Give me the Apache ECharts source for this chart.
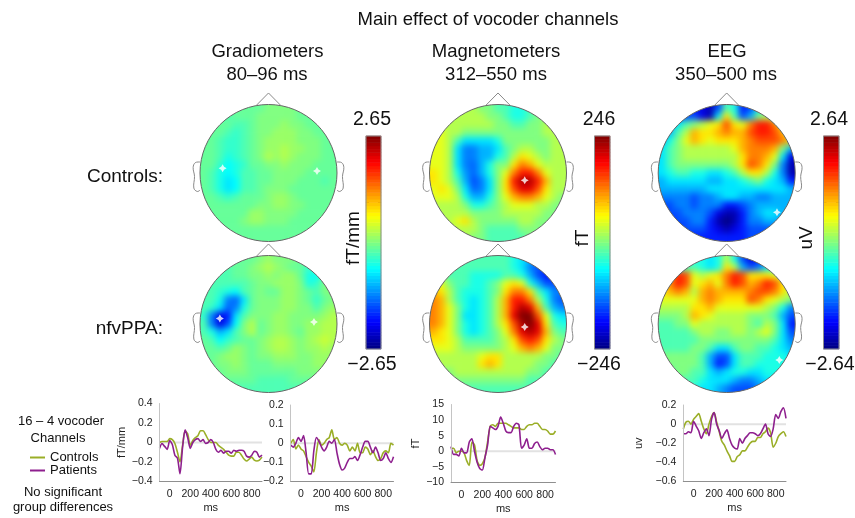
<!DOCTYPE html>
<html><head><meta charset="utf-8">
<style>html,body{margin:0;padding:0;background:#fff}#c{width:855px;height:518px}</style>
<script src="https://cdn.jsdelivr.net/npm/echarts@6/dist/echarts.min.js"></script>
</head><body><div id="c"></div>
<script>
// ---- topography values, in tenths of each colour scale's limit, rows front to back, columns left to right
const gradControls=[
[-1,-1,-1,-1,-.5,-.5,-.5,-.5,0,0,0,0,-.5,-.5,-.5,-.5,-.5],
[-1,-1,-1,-1,-.5,-.5,-.5,0,0,0,0,0,-.5,-.5,-.5,-.5,-.5],
[-1,-1,-.5,-.5,-1,-1,-.5,0,0,0,.5,0,0,-.5,-.5,-.5,-.5],
[-1,-.5,-.5,-1,-1.5,-1,-.5,0,0,.5,.5,.5,0,0,-.5,-.5,-.5],
[-.5,-.5,-1,-1.5,-1.5,-1,-.5,0,.5,.5,.5,.5,0,0,0,-.5,-.5],
[-.5,-.5,-1,-1.5,-1.5,-1,-.5,0,.5,.5,1,.5,.5,0,0,-.5,-.5],
[-.5,-.5,-1,-2,-1.5,-1,-.5,0,1,.5,1,.5,0,0,0,-.5,-.5],
[-.5,-.5,-1.5,-2.5,-2,-1.5,-.5,-.5,0,0,.5,0,0,0,-.5,-.5,-.5],
[-.5,-1,-2,-2.5,-2,-1,-1,-.5,-.5,0,0,0,0,-.5,-.5,-.5,-.5],
[-.5,-1,-2,-3,-2.5,-1,-1,-.5,-.5,0,0,0,-.5,-.5,-.5,-1,-.5],
[-.5,-1,-2,-3,-2.5,-1,-1,-.5,0,0,0,-.5,-.5,-.5,-.5,-.5,-.5],
[-.5,-.5,-1,-1.5,-1,-.5,-.5,-.5,0,.5,.5,0,-.5,-.5,-.5,-.5,-.5],
[-.5,-.5,-.5,-.5,-.5,-.5,-.5,0,0,.5,.5,0,0,-.5,-.5,-.5,-.5],
[-.5,-.5,-.5,-.5,-.5,-.5,.5,.5,0,0,0,0,-.5,-.5,-.5,-.5,-.5],
[-.5,-.5,-.5,-.5,-.5,0,.5,.5,0,0,0,-.5,-.5,-.5,-.5,-.5,-.5],
[-.5,-.5,-.5,-.5,-.5,-.5,-.5,-.5,-.5,-.5,-.5,-.5,-.5,-.5,-.5,-.5,-.5],
[-.5,-.5,-.5,-.5,-.5,-.5,-.5,-.5,-.5,-.5,-.5,-.5,-.5,-.5,-.5,-.5,-.5]];
const gradPatients=[
[-1,-1,-1,-.5,-.5,-.5,-.5,0,.5,0,0,0,-.5,-.5,-.5,0,0],
[-1,-1,-1,-1,-.5,-.5,0,.5,1,.5,0,-.5,-.5,-1.5,-.5,0,0],
[-1,-1,-1,-1,-.5,-.5,0,0,.5,0,.5,.5,-.5,-2,-2.5,-.5,0],
[-1,-1,-1,-1,-1,-1,-.5,0,0,.5,.5,.5,0,-2,-1.5,0,0],
[-1,-1,-1.5,-2,-2.5,-1,-.5,0,-.5,-.5,.5,.5,0,-.5,-1,0,0],
[-1,-1,-2,-5,-5.5,-3,-.5,0,0,0,.5,.5,0,-.5,-1.5,-.5,0],
[-1,-1.5,-3,-5.5,-5,-2,-.5,0,0,0,.5,.5,0,0,-1,0,.5],
[-1.5,-5,-8,-7,-3,-1,0,0,0,.5,.5,0,0,0,0,.5,1],
[-1,-5,-8,-6,-2.5,0,1,-.5,0,.5,.5,0,0,.5,.5,1,1],
[-1,-2,-4,-3,-1,0,1,-.5,0,.5,.5,0,-.5,.5,.5,1,1],
[-.5,-1,-2.5,-1.5,-1,-.5,-.5,0,.5,1,1,.5,0,.5,1,1.5,1],
[-.5,-.5,-1,-.5,.5,0,-.5,0,.5,1,1,.5,0,.5,.5,1,.5],
[-.5,-.5,0,.5,.5,0,-.5,0,0,.5,.5,.5,0,0,.5,.5,.5],
[-.5,-.5,0,0,.5,0,-.5,-.5,-.5,0,0,0,0,0,.5,.5,0],
[-.5,-.5,-.5,0,0,0,-.5,-.5,-.5,-.5,-.5,-.5,0,0,0,0,0],
[-.5,-.5,-.5,-.5,-.5,-.5,-.5,-1,-1,-1,-1,-.5,-.5,-.5,-.5,-.5,-.5],
[-1,-1,-1,-1,-1,-1,-1,-1,-1,-1,-1,-1,-1,-1,-1,-1,-1]];
const magControls=[
[1,1,1,1,1,1,0,0,-1,-1,-2,-2,-1,0,0,0,0],
[1,1,1,1,1,1,1,0,0,-1,-2,-2,-1,0,0,1,1],
[2,1,1,1,1,1,1,1,0,0,-1,-1,0,0,1,1,1],
[2,2,1,1,0,0,0,0,0,0,0,0,0,0,1,1,1],
[2,2,1,-1,-3,-3,-3,-3,-2,0,0,0,0,0,0,1,1],
[2,2,1,-3,-5,-5,-4,-4,-3,-1,0,1,1,0,0,1,1],
[2,2,1,-3,-5,-5,-4,-4,-2,-1,1,3,2,1,0,1,1],
[2,2,1,-3,-5,-5.5,-4,-2,0,0,3,5,4,2,1,1,1],
[3,2,1,-2,-4.5,-5.5,-4,-2,0,2,5,7,7,5,2,1,1],
[3,2,1,-1,-4,-6,-5,-3,0,3,7,9,9,7,4,1,1],
[2,3,2,0,-3,-5.5,-5,-3,0,3,6,8,8,6,3,1,1],
[2,2,2,1,-2,-4,-4,-2,0,2,4,5,5,4,2,1,0],
[1,1,1,1,0,-2,-2,-1,0,1,2,2,2,1,1,0,0],
[1,1,1,1,1,0,0,0,0,1,1,1,1,1,0,0,0],
[1,1,1,2,3,1,0,0,0,0,0,1,1,0,0,0,0],
[1,1,1,1,1,1,0,-1,-1,-1,-1,0,0,0,0,0,0],
[0,0,1,1,1,0,0,-1,-1,-1,-1,-1,0,0,0,0,0]];
const magPatients=[
[-1,-1,-1,-1,-1,-1,-1,-1,-1,-1,-2,-3,-4,-5,-5,-5,-5],
[-1,-1,-1,-1,-1,-1,-1,-1,-1,-1,-2,-3,-5,-6,-6,-6,-6],
[0,0,-1,-1,-1,-2,-2,-2,-2,-1,-1,-2,-4,-6,-7,-7,-7],
[2,2,0,-1,-1,-2,-2,-1,0,2,3,2,-2,-4,-6,-6,-6],
[4,3,1,-1,-2,-2,-2,-1,0,3,5,5,3,-1,-3,-5,-5],
[5,4,1,-1,-2,-3,-2,-1,1,4,7,7,5,1,-2,-5,-6],
[5,4,2,0,-2,-3,-2,-1,1,4,7,9,8,4,-1,-4,-5],
[5,4,2,0,-3,-3,-2,-1,1,4,8,10,10,6,2,-2,-3],
[5,4,2,0,-2,-3,-2,-1,1,3,6,9,10,8,3,-1,-2],
[4,3,2,0,-2,-3,-2,-1,0,2,5,8,9,8,4,0,-1],
[3,3,2,1,-1,-1,-1,-1,0,1,3,6,7,6,3,1,0],
[2,2,2,1,0,0,0,0,0,1,2,4,5,4,2,0,0],
[1,1,1,1,1,1,2,3,3,1,1,1,1,1,0,0,-1],
[1,1,1,1,1,1,3,4,3,1,1,1,1,0,0,-1,-1],
[0,0,0,1,1,1,1,1,1,1,1,1,0,0,-1,-1,-1],
[0,0,0,0,0,0,0,0,0,0,0,0,-1,-1,-1,-1,-1],
[-1,-1,-1,-1,-1,-1,-1,-1,-1,-1,-1,-1,-1,-1,-1,-1,-1]];
const eegControls=[
[-7,-7,-7,-7,-7,-8,-9,-6,-1,-2,-7,-6,-3,-3,-3,-3,-3],
[-6,-6,-6,-6,-6,-8,-9,-3,3,-1,-6,-4,0,1,0,0,0],
[-4,-4,-3,-1,0,1,2,3,6,3,2,5,7,7,5,2,1],
[-4,-4,-1,1,4,3,3,4,5,4,4,6,7,7,6,4,2],
[-4,-2,0,2,4,3,2,3,3,3,4,5,6,6,6,5,3],
[-3,-1,0,1,1,1,1,1,1,2,4,5,5,5,4,0,-4],
[-3,-1,0,1,1,1,1,1,1,1,3,5,5,4,2,-3,-8],
[-3,-1,0,0,0,0,0,0,0,1,3,6,5,3,0,-5,-9],
[-3,-2,-1,-1,-2,-2,-3,-3,-2,-1,1,3,3,1,-2,-5,-9],
[-4,-3,-3,-3,-3,-3,-4,-4,-3,-3,-2,-1,0,-2,-3,-4,-7],
[-4,-4,-4,-4,-4,-4,-3,-3,-3,-3,-3,-3,-3,-3,-3,-3,-4],
[-5,-5,-5,-5,-6,-5,-5,-4,-3,-3,-4,-4,-5,-5,-4,-4,-4],
[-6,-6,-5,-5,-6,-5,-5,-5,-7,-7,-6,-5,-4,-4,-4,-4,-4],
[-7,-6,-6,-5,-5,-5,-6,-8,-9,-9,-7,-5,-4,-3,-3,-4,-4],
[-7,-7,-6,-6,-5,-5,-7,-9,-10,-9,-7,-5,-5,-4,-4,-5,-5],
[-7,-7,-7,-6,-6,-6,-7,-8,-9,-8,-7,-6,-6,-6,-6,-6,-6],
[-7,-7,-7,-7,-7,-7,-7,-7,-7,-7,-7,-6,-6,-6,-6,-6,-6]];
const eegPatients=[
[-2,-2,-2,-2,-2,-2,-3,-2,1,-2,-6,-8,-7,-5,-4,-4,-4],
[-1,-1,-1,-1,-1,-2,-3,-2,3,1,-4,-6,-5,-3,-2,-2,-2],
[1,3,7,6,2,1,2,3,5,7,6,3,3,3,2,1,1],
[3,5,7,6,2,3,4,2,5,7,6,4,5,7,6,3,2],
[3,4,5,4,1,4,5,4,4,4,4,5,6,6,5,3,1],
[2,2,2,2,2,4,5,4,3,3,3,6,5,3,2,1,0],
[1,1,1,1,3,3,4,2,2,2,2,2,2,1,0,-2,-5],
[0,0,0,1,4,3,2,1,1,1,1,0,0,0,-1,-4,-6],
[-1,-1,0,0,2,1,1,1,1,1,1,0,-1,1,0,-3,-7],
[-1,-1,-1,-1,0,1,1,0,0,1,1,0,1,2,0,-3,-6],
[-1,-1,-1,-1,-1,0,0,0,0,0,0,0,0,0,-1,-3,-5],
[-1,-1,-1,-1,0,0,-1,-3,-3,-1,0,0,-1,-1,-2,-3,-4],
[0,0,0,0,0,-1,-4,-6,-6,-3,-1,-1,-1,-2,-2,-2,-3],
[0,0,0,0,0,-1,-4,-7,-6,-3,-1,-1,-2,-2,-2,-2,-2],
[-1,-1,0,0,-1,-1,-3,-4,-3,-2,-2,-3,-3,-2,-2,-2,-2],
[-1,-1,-1,-1,-1,-2,-3,-3,-3,-4,-5,-5,-4,-3,-3,-3,-3],
[-2,-2,-2,-2,-2,-3,-3,-4,-5,-6,-6,-6,-5,-4,-4,-4,-4]];
// colour scale limits per modality, and significant sensors in head units (right, front)
const scaleLimits=[2.65,246,2.64];
const gradStarsControls=[[-.67,.07],[.708,.03]];
const gradStarsPatients=[[-.71,.08],[.664,.03]];
const magStarsControls=[[.39,-.107]];
const magStarsPatients=[[.39,-.044]];
const eegStarsControls=[[.734,-.574]];
const eegStarsPatients=[[.768,-.526]];
// ---- time courses
const ms=[-100,-75,-50,-25,0,25,50,75,100,125,150,175,200,225,250,275,300,325,350,375,400,425,450,475,500,525,550,575,600,625,650,675,700,725,750,775,800,825,850,875,900];
const grad1Controls=[0,.01,.01,.01,.04,.03,-.01,-.1,-.2,-.03,.12,.09,-.03,.02,.05,.07,.12,.12,.08,.03,0,0,0,-.03,-.05,-.07,-.1,-.13,-.14,-.14,-.1,-.1,-.13,-.17,-.19,-.17,-.15,-.18,-.19,-.18,-.15];
const grad1Patients=[-.06,-.01,-.04,-.07,.02,-.02,-.13,-.16,-.32,-.05,.13,.05,-.06,0,.03,.04,.01,.03,-.01,0,.03,0,-.07,-.1,-.08,-.11,-.09,-.09,-.11,-.08,-.09,-.08,-.08,-.09,-.14,-.15,-.13,-.09,-.1,-.15,-.13];
const grad2Controls=[0,.02,-.03,-.01,-.03,-.04,-.07,-.1,-.12,-.15,-.05,.02,-.01,0,.02,.03,.07,.02,.03,0,-.01,0,-.01,-.04,-.02,-.04,0,-.05,-.05,-.02,-.03,-.06,-.04,-.07,-.09,-.08,-.05,-.04,-.05,0,-.01];
const grad2Patients=[-.01,-.02,0,.03,.01,.04,-.05,-.16,-.16,-.04,.03,.01,-.02,-.04,-.02,.01,0,.02,-.05,-.11,-.14,-.13,-.1,-.08,-.08,-.07,-.09,-.06,-.02,.01,.01,-.02,-.05,-.02,-.05,-.09,-.08,-.05,-.08,-.1,-.07];
const magLineControls=[1,1,-.5,0,0,-.5,-3,-4.5,3,2,-3,-4.5,-4,-2,3,8,8.5,8,9,9,9,9,8.5,8,7.5,7.5,7.5,7,7,8,8.5,8.5,9,9,8,7,7,6.5,5.5,5.5,6.5];
const magLinePatients=[1.5,-1,-1,-1.5,1,-.5,-.5,3,4,0,-3.5,-5.5,-6,-2,2,8,7.5,7,8,11,9,6.5,6,6,8,9,8.5,1,2,4,1,1,2.5,3,1.5,.5,1,1,.5,.5,-1];
const eegLineControls=[-.05,.02,.03,0,.05,.08,.11,.03,-.05,-.1,0,.08,.12,.02,-.08,-.18,-.22,-.28,-.33,-.39,-.39,-.34,-.32,-.28,-.28,-.24,-.2,-.18,-.18,-.14,-.14,-.1,-.08,-.04,-.09,-.24,-.2,-.13,-.1,-.08,-.13];
const eegLinePatients=[-.1,-.1,-.08,-.09,.03,-.02,-.07,-.15,-.09,-.05,-.12,.05,.12,0,-.07,-.15,-.1,-.06,-.15,-.22,-.25,-.26,-.15,-.2,-.15,-.12,-.09,-.09,-.1,-.12,-.1,-.05,0,-.1,-.13,-.05,.1,.06,.13,.17,.06];
const msTicks=[0,200,400,600,800];
// ---- layout
const FONT='Liberation Sans';
const R=68.5, HALF=76.6, UNIT=HALF/R;
const jet=['#000080','#0000ff','#0080ff','#00ffff','#80ff80','#ffff00','#ff8000','#ff0000','#800000'];
const heads=[
 {cx:268.5,cy:173,table:gradControls,stars:gradStarsControls,scale:0,up:92,down:82},
 {cx:268.5,cy:324,table:gradPatients,stars:gradStarsPatients,scale:0,up:82,down:92},
 {cx:498,cy:173,table:magControls,stars:magStarsControls,scale:1,up:92,down:82},
 {cx:498,cy:324,table:magPatients,stars:magStarsPatients,scale:1,up:82,down:92},
 {cx:726.7,cy:173,table:eegControls,stars:eegStarsControls,scale:2,up:92,down:82},
 {cx:726.7,cy:324,table:eegPatients,stars:eegStarsPatients,scale:2,up:82,down:92}];
const bars=[
 {x:366,w:15,name:'fT/mm',nameX:354},
 {x:594.5,w:15.5,name:'fT',nameX:583},
 {x:823.5,w:15.5,name:'uV',nameX:807}];
const plots=[
 {x0:159.5,x1:262,y0:403.5,y1:481.5,min:-.4,max:.4,step:.2,name:'fT/mm',gap:28,c:grad1Controls,p:grad1Patients},
 {x0:290.7,x1:393.5,y0:405,y1:481.5,min:-.2,max:.2,step:.1,name:'',gap:0,c:grad2Controls,p:grad2Patients},
 {x0:451,x1:555.5,y0:404.5,y1:482.5,min:-10,max:15,step:5,name:'fT',gap:30,c:magLineControls,p:magLinePatients},
 {x0:683.3,x1:786,y0:405,y1:481.5,min:-.6,max:.2,step:.2,name:'uv',gap:39,c:eegLineControls,p:eegLinePatients}];
const texts=[
 ['Main effect of vocoder channels',488,20,18.5,'center'],
 ['Gradiometers',267.5,52,18.5,'center'],['80–96 ms',267,75,18.5,'center'],
 ['Magnetometers',496,52,18.5,'center'],['312–550 ms',496,75,18.5,'center'],
 ['EEG',727,52,18.5,'center'],['350–500 ms',726,75,18.5,'center'],
 ['Controls:',163,177,19,'right'],['nfvPPA:',163,329,19,'right'],
 ['2.65',372,120,19.5,'center'],['−2.65',372,365,19.5,'center'],
 ['246',599,120,19.5,'center'],['−246',599,365,19.5,'center'],
 ['2.64',829,120,19.5,'center'],['−2.64',830,365,19.5,'center'],
 ['16 – 4 vocoder',61,421,13,'center'],['Channels',58,438,13,'center'],
 ['No significant',63,492,13,'center'],['group differences',63,507,13,'center']];
const earOutline=[[1,.16],[1.07,.15],[1.1,.08],[1.08,-.05],[1.09,-.22],[1.04,-.27],[1,-.25]];
const noseOutline=[[-.18,.985],[0,1.168],[.18,.985]];

const grids=[],xAxes=[],yAxes=[],series=[],visualMaps=[[],[],[]];
function pad(table){ // one repeated ring of cells beyond the head edge, hidden by the mask
 const rows=[table[0],...table,table[table.length-1]];
 return rows.map(r=>[r[0],...r,r[r.length-1]]);
}
function headDecor(h,api){
 const c=api.coord([0,0]), r=api.size([1,0])[0], W=90;
 const t0=c[1]-h.up, b0=c[1]+h.down;
 const p=[[c[0]-W,t0],[c[0]+W,t0],[c[0]+W,b0],[c[0]-W,b0],[c[0]-W,t0],[c[0]-r,c[1]]];
 for(let a=0;a<=180;a++){const t=Math.PI+a*Math.PI/90;p.push([c[0]+r*Math.cos(t),c[1]-r*Math.sin(t)]);}
 p.push([c[0]-W,t0]);
 const line={stroke:'#8a8a8a',fill:null,lineWidth:1};
 const pts=(arr,sx)=>arr.map(q=>api.coord([q[0]*sx,q[1]]));
 return {type:'group',children:[
  {type:'polygon',shape:{points:p},style:{fill:'#fff',stroke:null}},
  {type:'circle',shape:{cx:c[0],cy:c[1],r:r},style:{stroke:'#666',fill:null,lineWidth:1}},
  {type:'polyline',shape:{points:pts(noseOutline,1)},style:line},
  {type:'polyline',shape:{points:pts(earOutline,1),smooth:.4},style:line},
  {type:'polyline',shape:{points:pts(earOutline,-1),smooth:.4},style:line}]};
}
heads.forEach(h=>{
 const g=grids.length, a=xAxes.length, lim=scaleLimits[h.scale];
 grids.push({left:h.cx-HALF,top:h.cy-HALF,width:HALF*2,height:HALF*2});
 const cells=pad(h.table), idx=cells.map((_,i)=>i);
 xAxes.push({gridIndex:g,type:'value',min:-UNIT,max:UNIT,show:false},{gridIndex:g,type:'category',data:idx,show:false});
 yAxes.push({gridIndex:g,type:'value',min:-UNIT,max:UNIT,show:false},{gridIndex:g,type:'category',data:idx,inverse:true,show:false});
 const data=[];
 cells.forEach((row,y)=>row.forEach((v,x)=>data.push([x,y,v*lim/10])));
 visualMaps[h.scale].push(series.length);
 series.push({type:'heatmap',zlevel:-1,xAxisIndex:a+1,yAxisIndex:a+1,data:data,silent:true,progressive:0,animation:false});
 series.push({type:'custom',xAxisIndex:a,yAxisIndex:a,data:[[0,0]],renderItem:(p,api)=>headDecor(h,api),silent:true,z:1,animation:false});
 series.push({type:'scatter',xAxisIndex:a,yAxisIndex:a,data:h.stars,symbol:'path://M5 0L6.8 3.2L10 5L6.8 6.8L5 10L3.2 6.8L0 5L3.2 3.2Z',symbolSize:8,itemStyle:{color:'#fff'},silent:true,z:4});
});
bars.forEach((b,i)=>{
 const g=grids.length, a=xAxes.length, lim=scaleLimits[i];
 grids.push({left:b.x,top:136,width:b.w,height:213,show:true,z:3,borderColor:'#8d8d8d',borderWidth:1,backgroundColor:'transparent'});
 const steps=[];for(let k=0;k<64;k++)steps.push((k+.5)/32-1);
 xAxes.push({gridIndex:g,type:'category',data:[0],show:false});
 const tick={show:true,inside:true,length:3,lineStyle:{color:'#222'},customValues:[.72,.376,.032]};
 yAxes.push({gridIndex:g,type:'category',data:steps,show:false},
  {gridIndex:g,type:'value',min:-1,max:1,position:'left',axisLine:{show:false},splitLine:{show:false},axisLabel:{show:false},axisTick:tick},
  {gridIndex:g,type:'value',min:-1,max:1,position:'right',axisLine:{show:false},splitLine:{show:false},axisLabel:{show:false},axisTick:tick});
 visualMaps[i].push(series.length);
 series.push({type:'heatmap',xAxisIndex:a,yAxisIndex:yAxes.length-3,data:steps.map((s,k)=>[0,k,s*lim]),silent:true,progressive:0,z:2,animation:false});
});
plots.forEach(pl=>{
 const g=grids.length, xi=xAxes.length, yi=yAxes.length;
 grids.push({left:pl.x0,top:pl.y0,width:pl.x1-pl.x0,height:pl.y1-pl.y0});
 xAxes.push({gridIndex:g,type:'value',min:-100,max:900,z:6,splitLine:{show:false},axisTick:{show:false},
  axisLine:{onZero:false,lineStyle:{color:'#8f8f8f'}},
  axisLabel:{customValues:msTicks,fontFamily:FONT,fontSize:10.5,color:'#222',margin:7},
  name:'ms',nameLocation:'middle',nameGap:21,nameTextStyle:{fontFamily:FONT,fontSize:11,color:'#222'}});
 yAxes.push({gridIndex:g,type:'value',min:pl.min,max:pl.max,interval:pl.step,z:6,splitLine:{show:false},axisTick:{show:false},
  axisLine:{show:true,onZero:false,lineStyle:{color:'#c4c4c4'}},
  axisLabel:{fontFamily:FONT,fontSize:10.5,color:'#222',margin:7,formatter:v=>String(v).replace('-','−')},
  name:pl.name,nameLocation:'middle',nameGap:pl.gap,nameTextStyle:{fontFamily:FONT,fontSize:11,color:'#222'}});
 series.push({type:'line',xAxisIndex:xi,yAxisIndex:yi,data:[[-100,0],[900,0]],showSymbol:false,silent:true,lineStyle:{color:'#e2e2e2',width:2},z:2,animation:false});
 const zip=v=>ms.map((t,i)=>[t,v[i]]);
 series.push({type:'line',name:'Controls',xAxisIndex:xi,yAxisIndex:yi,data:zip(pl.c),showSymbol:false,smooth:.25,silent:true,lineStyle:{color:'#9aae27',width:1.6},itemStyle:{color:'#9aae27'},z:3,animation:false});
 series.push({type:'line',name:'Patients',xAxisIndex:xi,yAxisIndex:yi,data:zip(pl.p),showSymbol:false,smooth:.25,silent:true,lineStyle:{color:'#8e1f8e',width:1.6},itemStyle:{color:'#8e1f8e'},z:4,animation:false});
});
const chart=echarts.init(document.getElementById('c'),null,{renderer:'canvas'});
chart.setOption({
 animation:false,
 textStyle:{fontFamily:FONT},
 title:texts.map(t=>({text:t[0],left:t[1],top:t[2],textAlign:t[4],textVerticalAlign:'middle',padding:0,
   textStyle:{fontFamily:FONT,fontWeight:'normal',fontSize:t[3],color:'#111'}})),
 legend:{data:['Controls','Patients'],orient:'vertical',left:30,top:451,itemWidth:15,itemHeight:2,icon:'rect',itemGap:0,selectedMode:false,padding:0,
   textStyle:{fontFamily:FONT,fontSize:13,color:'#111'}},
 tooltip:{show:false},
 grid:grids,xAxis:xAxes,yAxis:yAxes,
 graphic:{elements:bars.map(b=>({type:'text',x:b.nameX,y:238,rotation:Math.PI/2,silent:true,z:6,
   style:{text:b.name,fontFamily:FONT,fontSize:19,fill:'#111',textAlign:'center',textVerticalAlign:'middle'}}))},
 visualMap:visualMaps.map((idx,i)=>({type:'continuous',show:false,min:-scaleLimits[i],max:scaleLimits[i],seriesIndex:idx,dimension:2,inRange:{color:jet}})),
 series:series
});
// soften the sensor-grid cells, as the source topography plots are rendered smoothly
document.querySelectorAll('#c canvas')[0].style.filter='blur(3.2px)';
</script></body></html>
